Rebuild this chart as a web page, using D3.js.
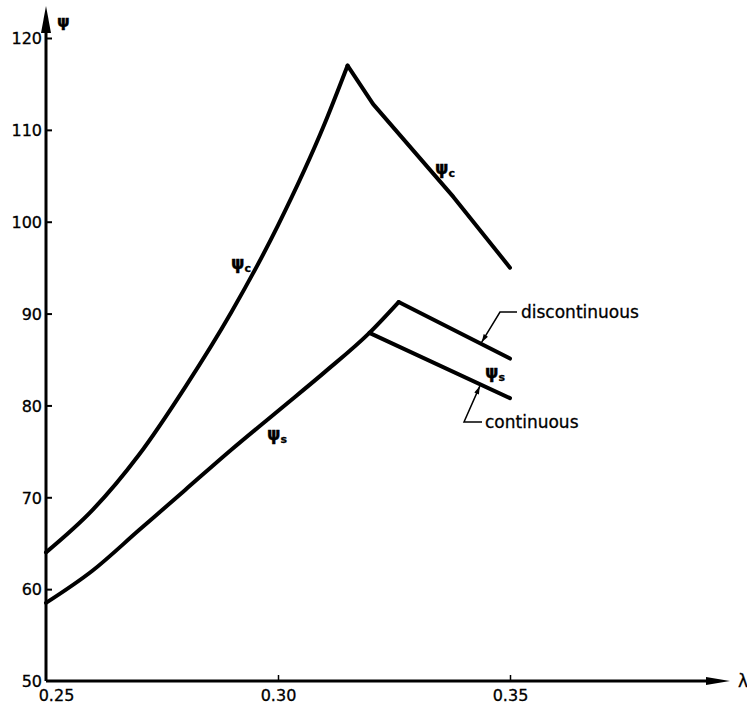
<!DOCTYPE html>
<html>
<head><meta charset="utf-8">
<style>
  body { margin: 0; background: #fff; }
  svg text { font-family: "DejaVu Sans", sans-serif; fill: #000; stroke: #000; stroke-width: 0.3; }
  .curve { fill: none; stroke: #000; stroke-width: 4; stroke-linejoin: round; stroke-linecap: round; }
  .tick text { font-size: 16px; }
</style>
</head>
<body>
<script src="https://cdn.jsdelivr.net/npm/d3@7"></script>
<script>
// values
var yTicks = [50, 60, 70, 80, 90, 100, 110, 120];
var xTicks = [0.25, 0.30, 0.35];

var psiC = [
  [0.25, 64.0], [0.26, 68.6], [0.27, 74.6], [0.28, 82.0], [0.29, 90.2],
  [0.30, 99.6], [0.31, 110.6], [0.315, 117.0], [0.3205, 112.8], [0.3378, 102.7], [0.35, 95.0]
];
var psiSDisc = [
  [0.25, 58.5], [0.26, 62.0], [0.27, 66.4], [0.28, 70.8], [0.29, 75.2],
  [0.30, 79.4], [0.31, 83.6], [0.3197, 87.9], [0.326, 91.25], [0.35, 85.1]
];
var psiSCont = [[0.3197, 87.9], [0.35, 80.8]];

var width = 747, height = 706;

var x = d3.scaleLinear().domain([0.25, 0.35]).range([46, 510]);
var y = d3.scaleLinear().domain([50, 120]).range([681, 38]);

var svg = d3.select("body").append("svg")
    .attr("width", width)
    .attr("height", height);

var line = d3.line()
    .x(d => x(d[0]))
    .y(d => y(d[1]))
    .curve(d3.curveMonotoneX);

var straight = d3.line().x(d => x(d[0])).y(d => y(d[1]));

// y axis
var yAxis = svg.append("g")
    .attr("transform", "translate(" + x(0.25) + ",0)")
    .call(d3.axisLeft(y).tickValues(yTicks).tickSize(-6).tickPadding(4));
yAxis.select(".domain").remove();
yAxis.selectAll(".tick line").attr("stroke-width", 2).filter(d => d === 50).remove();
yAxis.selectAll(".tick text").attr("dy", "0.36em");

// x axis
var xAxis = svg.append("g")
    .attr("transform", "translate(0," + y(50) + ")")
    .call(d3.axisBottom(x).tickValues(xTicks).tickFormat(d3.format(".2f")).tickSize(-6).tickPadding(9));
xAxis.select(".domain").remove();
xAxis.selectAll(".tick line").attr("stroke-width", 1.5).filter(d => d === 0.25).remove();
xAxis.selectAll(".tick text").filter(d => d === 0.25).attr("dx", 10);

// axis lines with arrows
svg.append("line")
    .attr("x1", x(0.25)).attr("y1", y(50)).attr("x2", x(0.25)).attr("y2", 20)
    .attr("stroke", "#000").attr("stroke-width", 3);
svg.append("path")
    .attr("d", "M" + x(0.25) + ",6 L" + (x(0.25) - 5) + ",33 L" + (x(0.25) + 5) + ",33 Z")
    .attr("fill", "#000");
svg.append("line")
    .attr("x1", x(0.25)).attr("y1", y(50)).attr("x2", 715).attr("y2", y(50))
    .attr("stroke", "#000").attr("stroke-width", 3);
svg.append("path")
    .attr("d", "M730," + y(50) + " L706," + (y(50) - 4) + " L706," + (y(50) + 4) + " Z")
    .attr("fill", "#000");

svg.append("text").attr("x", 57).attr("y", 27).style("font-size", "16px").style("font-weight", "bold").text("ψ");
svg.append("text").attr("x", 738).attr("y", 687).style("font-size", "17px").text("λ");

// curves
svg.append("path").attr("class", "curve").attr("d", line(psiC.slice(0, 8)));
svg.append("path").attr("class", "curve").attr("d", straight(psiC.slice(7)));
svg.append("path").attr("class", "curve").attr("d", line(psiSDisc.slice(0, 9)));
svg.append("path").attr("class", "curve").attr("d", straight(psiSDisc.slice(8)));
svg.append("path").attr("class", "curve").attr("d", straight(psiSCont));

// curve labels
function psiLabel(px, py, sub) {
  var t = svg.append("text").attr("x", px).attr("y", py)
      .style("font-size", "17px").style("font-weight", "bold");
  t.append("tspan").text("ψ");
  t.append("tspan").attr("dy", 3).style("font-size", "11px").text(sub);
}
psiLabel(231, 269, "c");
psiLabel(267, 440, "s");
psiLabel(435, 174, "c");
psiLabel(485, 378, "s");

// leaders
function leader(pts) {
  svg.append("path")
      .attr("d", d3.line()(pts))
      .attr("fill", "none").attr("stroke", "#000").attr("stroke-width", 1.5);
  var a = pts[pts.length - 1], b = pts[pts.length - 2];
  var ang = Math.atan2(a[1] - b[1], a[0] - b[0]);
  var l = 8, w = 2.5;
  var p1 = [a[0] - l * Math.cos(ang) + w * Math.sin(ang), a[1] - l * Math.sin(ang) - w * Math.cos(ang)];
  var p2 = [a[0] - l * Math.cos(ang) - w * Math.sin(ang), a[1] - l * Math.sin(ang) + w * Math.cos(ang)];
  svg.append("path").attr("d", "M" + a + "L" + p1 + "L" + p2 + "Z").attr("fill", "#000");
}
var dAt = 0.3439, cAt = 0.3435;
var dY = 91.25 + (dAt - 0.326) * (85.1 - 91.25) / (0.35 - 0.326);
var cY = 87.9 + (cAt - 0.3197) * (80.8 - 87.9) / (0.35 - 0.3197);
leader([[517, 312], [500, 312], [x(dAt), y(dY) - 2]]);
leader([[482, 422], [464, 422], [x(cAt), y(cY) + 2]]);

svg.append("text").attr("x", 521).attr("y", 318).style("font-size", "17px").text("discontinuous");
svg.append("text").attr("x", 485).attr("y", 428).style("font-size", "17px").text("continuous");
</script>
</body>
</html>
